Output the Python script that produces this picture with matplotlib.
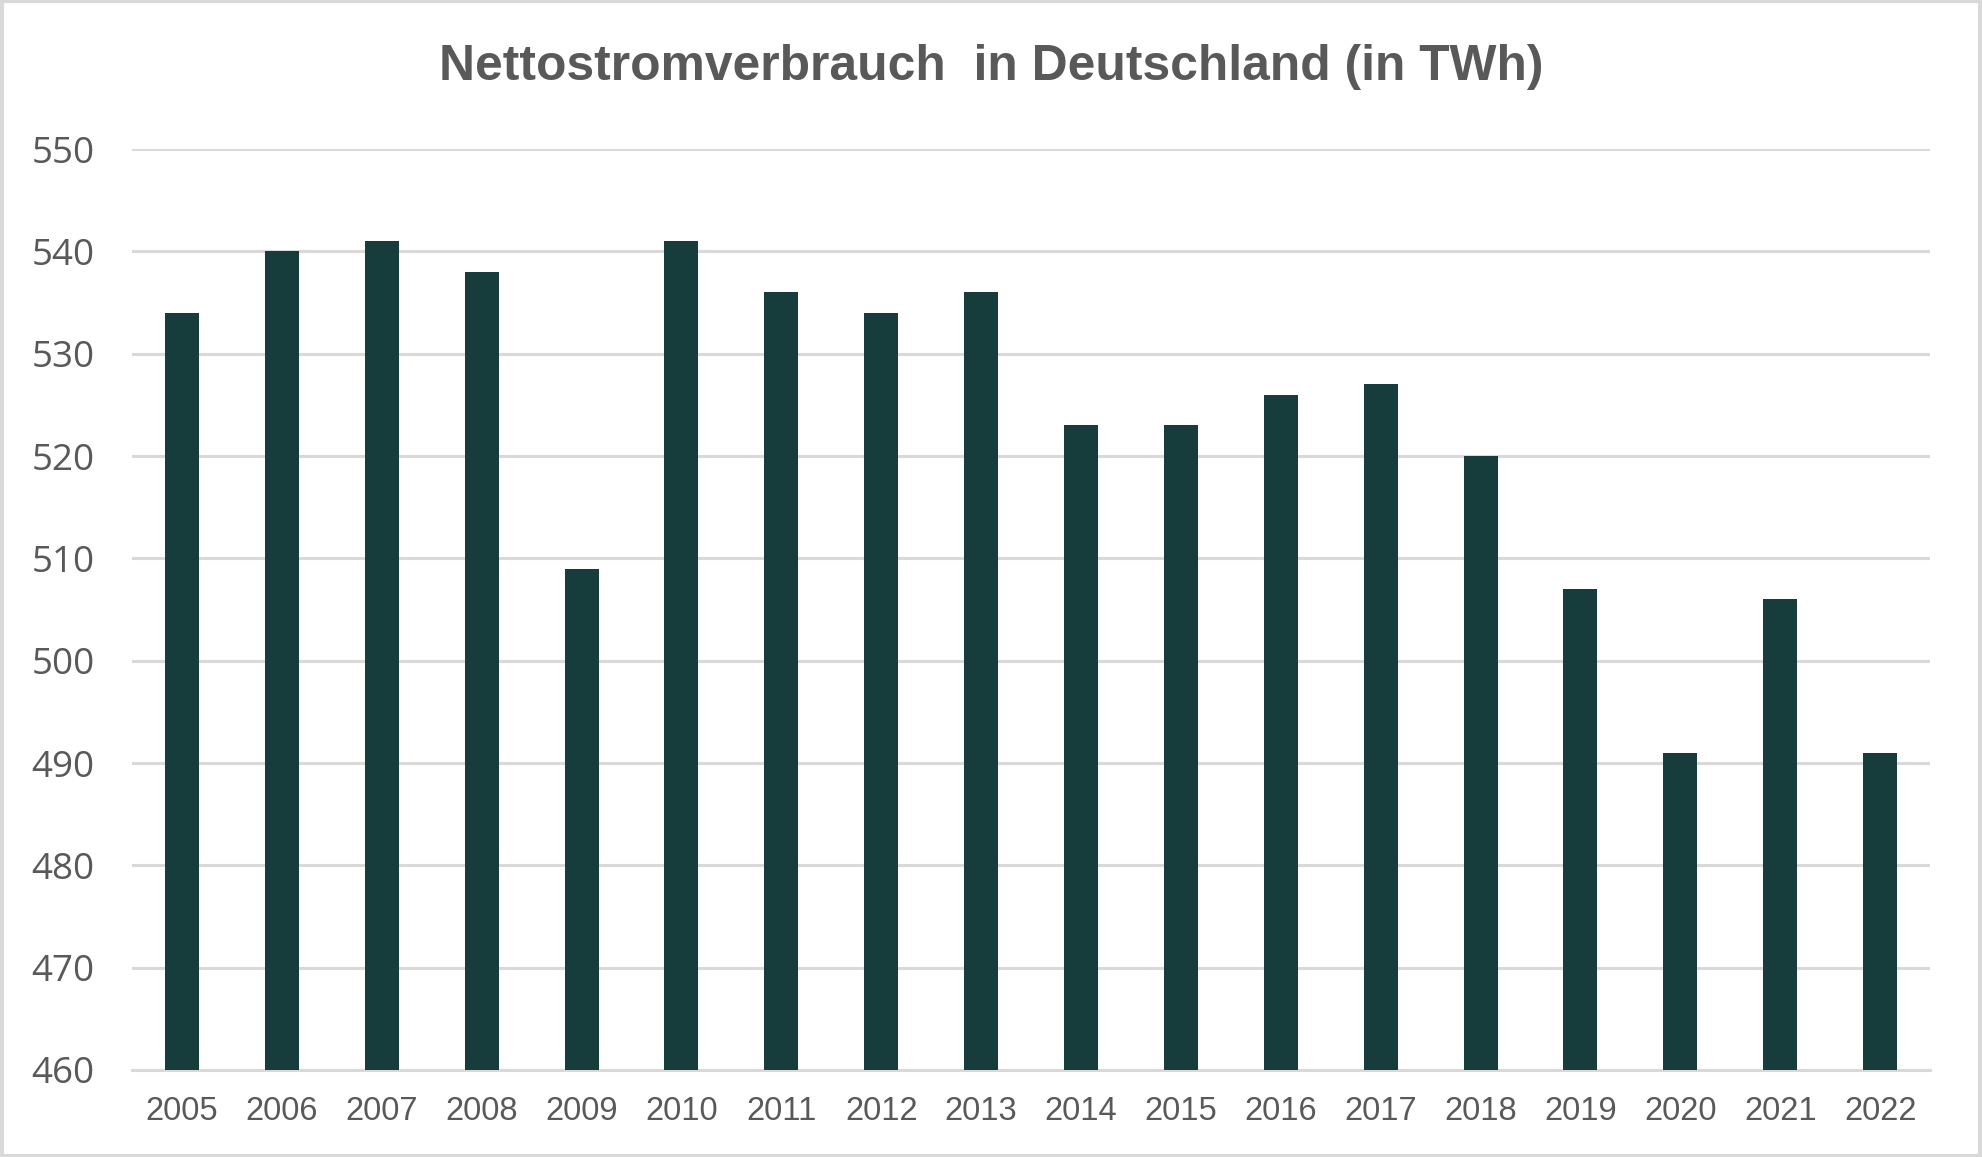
import matplotlib
matplotlib.use("Agg")
import matplotlib.pyplot as plt
from matplotlib.patches import Rectangle

years = ["2005", "2006", "2007", "2008", "2009", "2010", "2011", "2012", "2013",
         "2014", "2015", "2016", "2017", "2018", "2019", "2020", "2021", "2022"]
consumption = [534, 540, 541, 538, 509, 541, 536, 534, 536,
               523, 523, 526, 527, 520, 507, 491, 506, 491]
y_ticks = [460, 470, 480, 490, 500, 510, 520, 530, 540, 550]

BAR_COLOR = "#163c3c"
TEXT_COLOR = "#595959"
GRID_COLOR = "#d9d9d9"

fig = plt.figure(figsize=(19.82, 11.57), dpi=100)
ax = fig.add_axes([0.0666, 0.0752, 0.9072, 0.796])

x = list(range(len(years)))
ax.bar(x, consumption, width=0.34, color=BAR_COLOR, zorder=3)

ax.set_xlim(-0.5, len(years) - 0.5)
ax.set_ylim(y_ticks[0], y_ticks[-1])
ax.set_yticks(y_ticks)
ax.set_xticks(x)
ax.set_xticklabels(years, family="Liberation Sans", fontsize=23.5, color=TEXT_COLOR)
ax.set_yticklabels([str(t) for t in y_ticks], family="Open Sans", fontsize=26.5, color=TEXT_COLOR)
ax.tick_params(axis="both", length=0)
ax.tick_params(axis="x", pad=19)
ax.tick_params(axis="y", pad=27)

ax.grid(axis="y", color=GRID_COLOR, linewidth=2.2, zorder=0)
for side in ["top", "right", "left"]:
    ax.spines[side].set_visible(False)
ax.spines["bottom"].set_color(GRID_COLOR)
ax.spines["bottom"].set_linewidth(2.2)

fig.text(0.5, 1 - 67 / 1157, "Nettostromverbrauch  in Deutschland (in TWh)",
         ha="center", va="center", family="Liberation Sans", fontweight="bold",
         fontsize=35.8, color=TEXT_COLOR)

# outer chart frame
fig.patches.append(Rectangle((0.001, 0.001), 0.998, 0.998, transform=fig.transFigure,
                             fill=False, edgecolor=GRID_COLOR, linewidth=3))

fig.savefig("out.png", dpi=100)
